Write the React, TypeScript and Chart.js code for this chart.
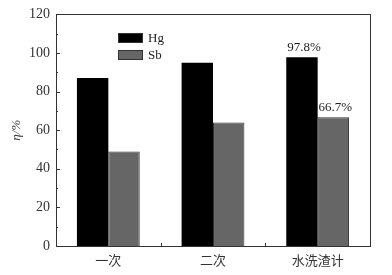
import React, { useEffect, useRef } from "react";
import { Chart, registerables } from "chart.js";

Chart.register(...registerables);

const categories = ["一次", "二次", "水洗渣计"];
const hgValues = [87, 95, 97.8];
const sbValues = [49, 64, 66.7];
const hgLabels = [null, null, "97.8%"];
const sbLabels = [null, null, "66.7%"];
const yTicks = [0, 20, 40, 60, 80, 100, 120];

const SERIF = "'Liberation Serif', 'DejaVu Serif', serif";
const CJK = "'Noto Sans CJK SC', sans-serif";

const framePlugin = {
  id: "frameTicks",
  afterDraw(chart: any) {
    const { ctx, chartArea } = chart;
    const y = chart.scales.y;
    const x = chart.scales.x;
    ctx.save();
    ctx.strokeStyle = "#333";
    ctx.lineWidth = 1;
    ctx.strokeRect(
      Math.round(chartArea.left) + 0.5,
      Math.round(chartArea.top) + 0.5,
      Math.round(chartArea.right - chartArea.left),
      Math.round(chartArea.bottom - chartArea.top)
    );
    for (let v = 0; v <= 120; v += 10) {
      const py = Math.round(y.getPixelForValue(v)) + 0.5;
      const len = v % 20 === 0 ? 4 : 2;
      ctx.beginPath();
      ctx.moveTo(chartArea.left, py);
      ctx.lineTo(chartArea.left + len, py);
      ctx.stroke();
    }
    for (let i = 0; i < categories.length - 1; i++) {
      const px =
        Math.round((x.getPixelForValue(i) + x.getPixelForValue(i + 1)) / 2) + 0.5;
      ctx.beginPath();
      ctx.moveTo(px, chartArea.bottom);
      ctx.lineTo(px, chartArea.bottom - 3);
      ctx.stroke();
    }
    ctx.fillStyle = "#222";
    ctx.font = `13px ${SERIF}`;
    ctx.textAlign = "center";
    ctx.textBaseline = "bottom";
    const sets = [hgLabels, sbLabels];
    sets.forEach((labels, di) => {
      const meta = chart.getDatasetMeta(di);
      labels.forEach((lab, i) => {
        if (!lab) return;
        const el = meta.data[i];
        ctx.fillText(lab, el.x + 2, el.y - 3);
      });
    });
    const items = chart.data.datasets;
    items.forEach((ds: any, i: number) => {
      const bx = 118;
      const by = 33 + i * 17;
      ctx.fillStyle = ds.backgroundColor;
      ctx.fillRect(bx, by, 25, 10);
      ctx.strokeStyle = "#333";
      ctx.strokeRect(bx + 0.5, by + 0.5, 24, 9);
      ctx.fillStyle = "#222";
      ctx.textAlign = "left";
      ctx.textBaseline = "middle";
      ctx.font = `13px ${SERIF}`;
      ctx.fillText(ds.label, bx + 30, by + 6);
    });
    ctx.restore();
  },
};

export default function App() {
  const ref = useRef<HTMLCanvasElement>(null);
  useEffect(() => {
    const chart = new Chart(ref.current!, {
      type: "bar",
      data: {
        labels: categories,
        datasets: [
          {
            label: "Hg",
            data: hgValues,
            backgroundColor: "#000000",
            borderColor: "#000000",
            borderWidth: 0,
            categoryPercentage: 0.6,
            barPercentage: 1.0,
          },
          {
            label: "Sb",
            data: sbValues,
            backgroundColor: "#666666",
            borderColor: "#333333",
            borderWidth: 1,
            categoryPercentage: 0.6,
            barPercentage: 1.0,
          },
        ],
      },
      options: {
        responsive: false,
        animation: false,
        layout: { padding: { top: 13, right: 22, left: 0, bottom: 0 } },
        plugins: {
          legend: { display: false },
          tooltip: { enabled: false },
        },
        scales: {
          x: {
            grid: { display: false, drawTicks: false },
            border: { display: false },
            ticks: {
              color: "#333",
              font: { family: CJK, size: 13 },
              padding: 6,
            },
            afterFit(scale: any) {
              scale.height = 29;
            },
          },
          y: {
            min: 0,
            max: 120,
            afterBuildTicks(scale: any) {
              scale.ticks = yTicks.map((v) => ({ value: v }));
            },
            grid: { display: false, drawTicks: false },
            border: { display: false },
            ticks: {
              color: "#333",
              font: { family: SERIF, size: 14 },
              padding: 6,
            },
            title: {
              display: true,
              text: "η/%",
              color: "#333",
              font: { family: SERIF, size: 13, style: "italic" },
              padding: { top: 9, bottom: 6 },
            },
            afterFit(scale: any) {
              scale.width = 56;
            },
          },
        },
      },
      plugins: [framePlugin],
    });
    return () => chart.destroy();
  }, []);
  return (
    <div style={{ position: "fixed", left: 0, top: 0, width: 392, height: 275, background: "#fff" }}>
      <canvas ref={ref} width={392} height={275} />
    </div>
  );
}
